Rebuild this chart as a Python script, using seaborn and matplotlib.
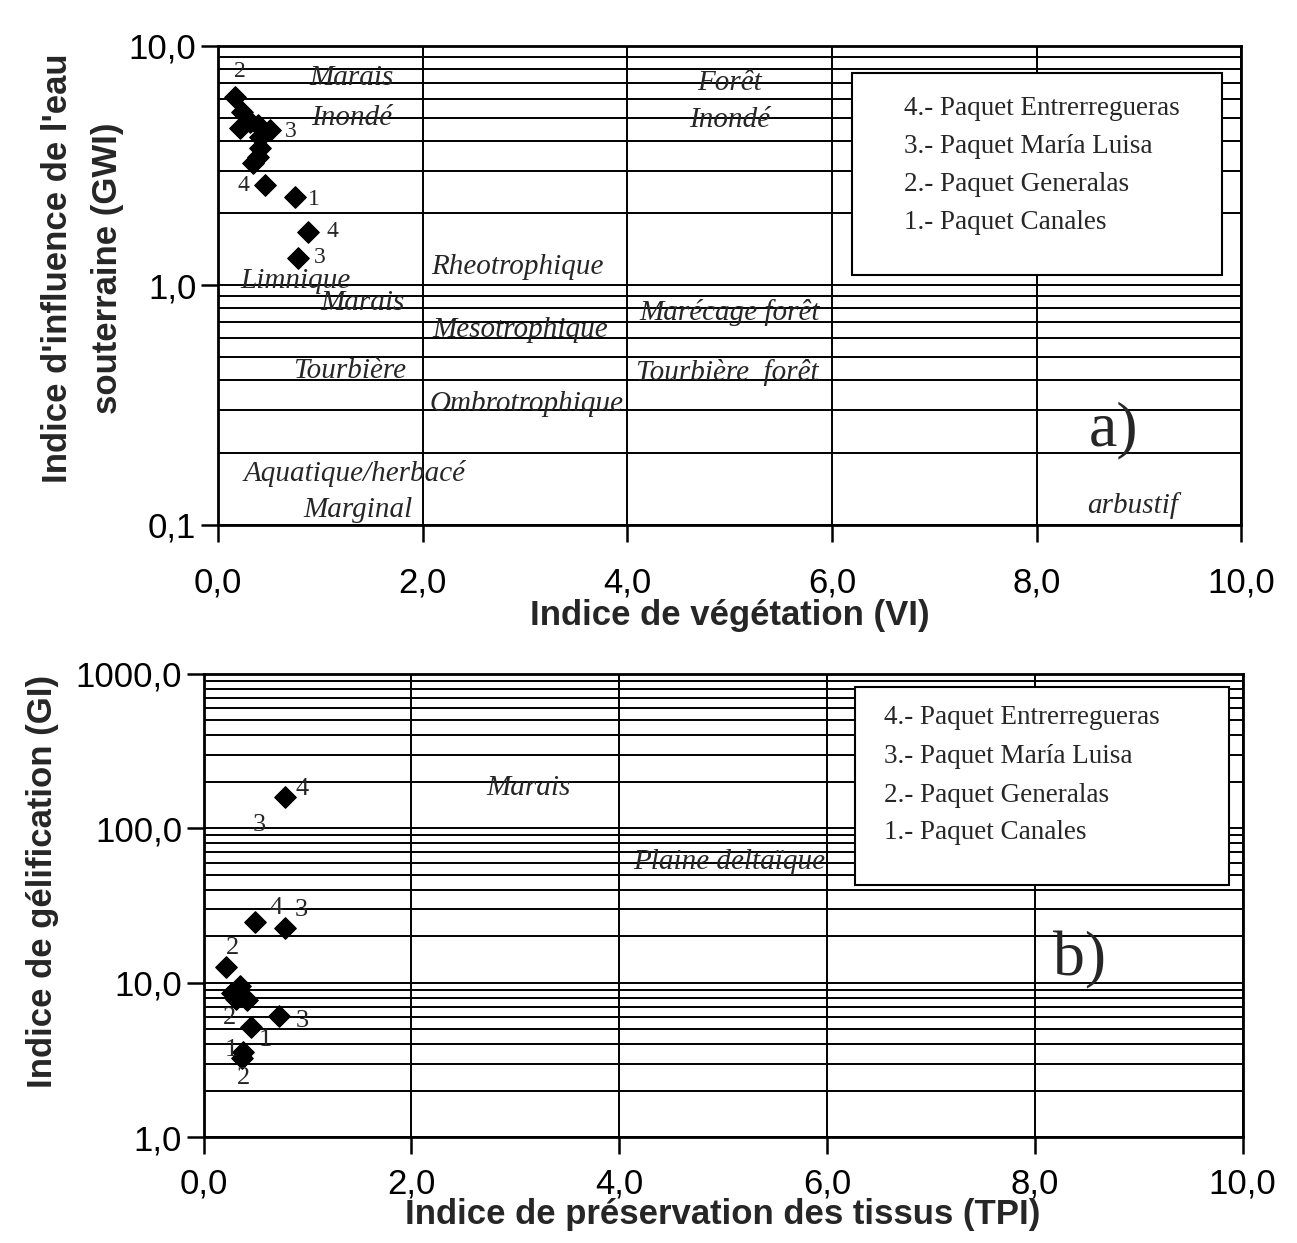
import numpy as np
import pandas as pd
import matplotlib
matplotlib.use("Agg")
import matplotlib.pyplot as plt
import matplotlib.ticker as mticker
from matplotlib.patches import Rectangle
import seaborn as sns

# --- panel a: vegetation index vs groundwater influence index
vi = [0.17, 0.24, 0.22, 0.31, 0.39, 0.51, 0.41, 0.41, 0.39, 0.34, 0.46, 0.75, 0.88, 0.78]
gwi = [6.12, 5.30, 4.54, 4.81, 4.67, 4.45, 4.16, 3.74, 3.43, 3.24, 2.62, 2.33, 1.67, 1.30]

# numbers beside the points (x, y, text)
a_num_x = [0.215, 0.71, 0.25, 0.94, 1.12, 1.0]
a_num_y = [7.8, 4.4, 2.6, 2.29, 1.68, 1.31]
a_num_t = ["2", "3", "4", "1", "4", "3"]

# facies names written in the panel
a_zone_x = [1.31, 1.31, 5.0, 5.0, 0.76, 2.93, 1.41, 2.95, 5.0, 1.29, 4.98, 3.02, 1.34, 1.37, 8.94]
a_zone_y = [7.35, 5.0, 7.0, 4.9, 1.04, 1.19, 0.84, 0.65, 0.77, 0.44, 0.43, 0.32, 0.163, 0.115, 0.12]
a_zone_t = ["Marais", "Inondé", "Forêt", "Inondé", "Limnique", "Rheotrophique", "Marais",
            "Mesotrophique", "Marécage forêt", "Tourbière", "Tourbière  forêt",
            "Ombrotrophique", "Aquatique/herbacé", "Marginal", "arbustif"]

# --- panel b: tissue preservation index vs gelification index
tpi = [0.78, 0.49, 0.78, 0.22, 0.35, 0.27, 0.42, 0.31, 0.73, 0.46, 0.38, 0.37]
gi = [160, 24.7, 22.6, 12.6, 9.6, 8.6, 7.7, 7.9, 6.1, 5.2, 3.55, 3.24]

b_num_x = [0.95, 0.54, 0.70, 0.94, 0.28, 0.25, 0.95, 0.59, 0.27, 0.38]
b_num_y = [180, 105, 30.4, 29.5, 16.8, 5.9, 5.7, 4.25, 3.66, 2.41]
b_num_t = ["4", "3", "4", "3", "2", "2", "3", "1", "1", "2"]

b_zone_x = [3.13, 5.06]
b_zone_y = [182, 60.5]
b_zone_t = ["Marais", "Plaine deltaïque"]

packets = ["4.- Paquet Entrerregueras", "3.- Paquet María Luisa",
           "2.- Paquet Generalas", "1.- Paquet Canales"]
x_ticks = [0, 2, 4, 6, 8, 10]

sns.set_theme(style="ticks")
plt.rcParams["font.family"] = ["Liberation Sans", "DejaVu Sans"]
plt.rcParams["axes.edgecolor"] = "black"
plt.rcParams["axes.linewidth"] = 2

comma = mticker.FuncFormatter(lambda v, p: f"{v:.1f}".replace(".", ","))
serif = ["Liberation Serif", "DejaVu Serif"]

fig = plt.figure(figsize=(12.97, 12.43), dpi=100)
ax_a = fig.add_axes([0.168, 0.578, 0.789, 0.385])
ax_b = fig.add_axes([0.157, 0.085, 0.801, 0.373])


def style_axes(ax, ylim):
    ax.set_yscale("log")
    ax.set_xlim(0, 10)
    ax.set_ylim(*ylim)
    ax.set_xticks(x_ticks)
    ax.xaxis.set_major_formatter(comma)
    ax.yaxis.set_major_locator(mticker.LogLocator(base=10))
    ax.yaxis.set_minor_locator(mticker.LogLocator(base=10, subs=np.arange(2, 10)))
    ax.yaxis.set_major_formatter(comma)
    ax.yaxis.set_minor_formatter(mticker.NullFormatter())
    ax.grid(True, which="both", axis="y", color="black", lw=1.4)
    ax.grid(True, which="major", axis="x", color="black", lw=1.4)
    ax.tick_params(which="major", direction="out", length=12, width=1.8, colors="black",
                   labelsize=25)
    ax.tick_params(which="minor", length=0)
    for s in ax.spines.values():
        s.set_visible(True)
        s.set_color("black")
    ax.set_axisbelow(True)


def packet_box(ax, x0, y0, w, h, tx, ty):
    ax.add_patch(Rectangle((x0, y0), w, h, transform=ax.transAxes, facecolor="white",
                           edgecolor="black", lw=1.5, zorder=5))
    for i, t in enumerate(packets):
        ax.text(tx, ty[i], t, transform=ax.transAxes, family=serif, fontsize=19.5,
                ha="left", va="center", zorder=6)


# panel a
df_a = pd.DataFrame({"VI": vi, "GWI": gwi})
sns.scatterplot(data=df_a, x="VI", y="GWI", marker="D", s=120, color="black",
                edgecolor="black", ax=ax_a, zorder=4)
style_axes(ax_a, (0.1, 10))
ax_a.tick_params(axis="x", pad=18)
for x, y, t in zip(a_num_x, a_num_y, a_num_t):
    ax_a.text(x, y, t, family=serif, fontsize=17, ha="center", va="center", zorder=4)
for x, y, t in zip(a_zone_x, a_zone_y, a_zone_t):
    ax_a.text(x, y, t, family=serif, style="italic", fontsize=21, ha="center",
              va="center", zorder=4)
ax_a.text(8.75, 0.247, "a)", family=serif, fontsize=46, ha="center", va="center")
packet_box(ax_a, 0.62, 0.521, 0.361, 0.423, 0.67, [0.870, 0.791, 0.711, 0.632])
ax_a.set_xlabel("Indice de végétation (VI)", fontsize=25, fontweight="bold")
ax_a.xaxis.set_label_coords(0.5, -0.155)
ax_a.set_ylabel("Indice d'influence de l'eau\nsouterraine (GWI)", fontsize=25,
                fontweight="bold", linespacing=1.65)
ax_a.yaxis.set_label_coords(-0.092, 0.535)

# panel b
df_b = pd.DataFrame({"TPI": tpi, "GI": gi})
sns.scatterplot(data=df_b, x="TPI", y="GI", marker="D", s=120, color="black",
                edgecolor="black", ax=ax_b, zorder=4)
style_axes(ax_b, (1, 1000))
ax_b.tick_params(axis="x", pad=10)
for x, y, t in zip(b_num_x, b_num_y, b_num_t):
    ax_b.text(x, y, t, family=serif, fontsize=19, ha="center", va="center", zorder=4)
for x, y, t in zip(b_zone_x, b_zone_y, b_zone_t):
    ax_b.text(x, y, t, family=serif, style="italic", fontsize=21, ha="center",
              va="center", zorder=4)
ax_b.text(8.43, 14.0, "b)", family=serif, fontsize=46, ha="center", va="center")
packet_box(ax_b, 0.627, 0.544, 0.36, 0.428, 0.655, [0.905, 0.821, 0.737, 0.657])
ax_b.set_xlabel("Indice de préservation des tissus (TPI)", fontsize=25, fontweight="bold")
ax_b.xaxis.set_label_coords(0.5, -0.13)
ax_b.set_ylabel("Indice de gélification (GI)", fontsize=25, fontweight="bold")
ax_b.yaxis.set_label_coords(-0.139, 0.553)

fig.savefig("out.png", dpi=100)
